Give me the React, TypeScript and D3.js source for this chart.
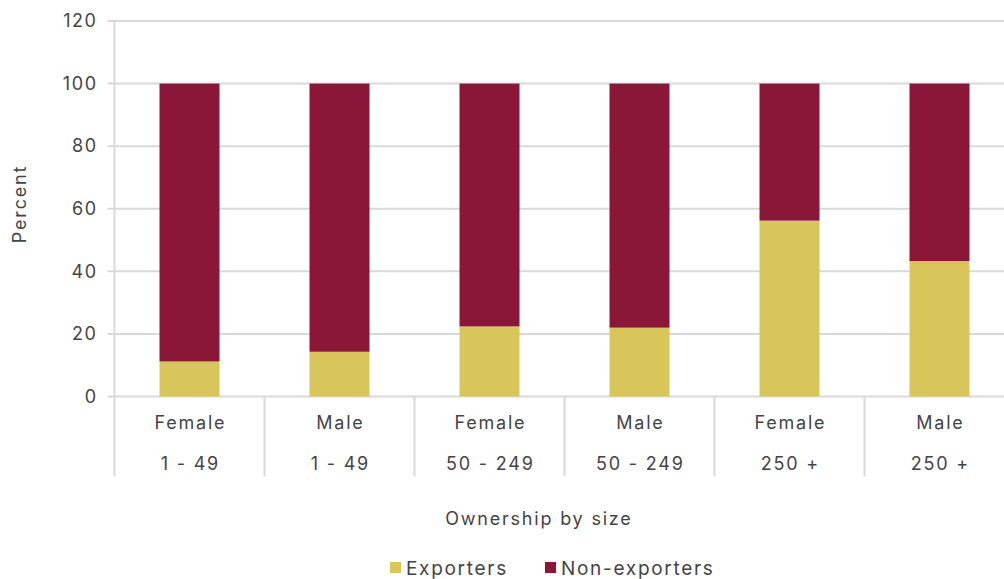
import React from "react";
import * as d3 from "d3";

const genders = ["Female", "Male", "Female", "Male", "Female", "Male"];
const sizes = ["1 - 49", "1 - 49", "50 - 249", "50 - 249", "250 +", "250 +"];
const exporters = [11.2, 14.3, 22.4, 22.0, 56.2, 43.3];
const nonExporters = exporters.map((v) => 100 - v);
const yTicks = [0, 20, 40, 60, 80, 100, 120];
const seriesNames = ["Exporters", "Non-exporters"];
const colors = ["#D8C65A", "#8B1738"];

const W = 1004;
const H = 579;
const left = 114.5;
const right = 1014.5;
const top = 21;
const bottom = 396.5;
const font = "Inter, 'Open Sans', sans-serif";
const textColor = "#444";
const ls = 1.8;

export default function App() {
  const idx = genders.map((_, i) => i);
  const x = d3.scaleBand<number>().domain(idx).range([left, right]).paddingInner(0).paddingOuter(0);
  const y = d3.scaleLinear().domain([0, 120]).range([bottom, top]);
  const bw = x.bandwidth() * 0.4;
  const stackData = idx.map((i) => ({ i, Exporters: exporters[i], "Non-exporters": nonExporters[i] }));
  const stacked = d3.stack<any>().keys(seriesNames)(stackData);

  return (
    <svg width={W} height={H} style={{ position: "absolute", left: 0, top: 0 }}>
      <rect width={W} height={H} fill="#fff" />
      {yTicks.map((t) => (
        <g key={t}>
          <line x1={left - 7} x2={W} y1={y(t)} y2={y(t)} stroke="#d9d9d9" strokeWidth={2} />
          <text x={96 + 1.6} y={y(t)} dy="0.35em" textAnchor="end" fontFamily={font} fontSize={18} letterSpacing={1.6} fill={textColor}>
            {t}
          </text>
        </g>
      ))}
      <line x1={left} x2={left} y1={top} y2={bottom + 80} stroke="#d9d9d9" strokeWidth={2} />
      {idx.slice(1).map((i) => (
        <line key={i} x1={x(i)!} x2={x(i)!} y1={bottom} y2={bottom + 80} stroke="#d9d9d9" strokeWidth={2} />
      ))}
      {stacked.map((s, si) =>
        s.map((d, i) => (
          <rect
            key={si + "-" + i}
            x={x(i)! + (x.bandwidth() - bw) / 2}
            width={bw}
            y={y(d[1])}
            height={y(d[0]) - y(d[1])}
            fill={colors[si]}
          />
        ))
      )}
      {idx.map((i) => (
        <g key={i} fontFamily={font} fontSize={18} letterSpacing={ls} fill={textColor} textAnchor="middle">
          <text x={x(i)! + x.bandwidth() / 2 + ls / 2} y={423} dy="0.35em">{genders[i]}</text>
          <text x={x(i)! + x.bandwidth() / 2 + ls / 2} y={464} dy="0.35em">{sizes[i]}</text>
        </g>
      ))}
      <text x={538 + ls / 2} y={519} dy="0.35em" textAnchor="middle" fontFamily={font} fontSize={18} letterSpacing={ls} fill={textColor}>
        Ownership by size
      </text>
      <text
        transform={`translate(20,204) rotate(-90)`}
        dy="0.35em"
        textAnchor="middle"
        fontFamily={font}
        fontSize={18}
        letterSpacing={ls}
        fill={textColor}
      >
        Percent
      </text>
      <g fontFamily={font} fontSize={19} letterSpacing={1.7} fill={textColor}>
        <rect x={390} y={562} width={11} height={11} fill={colors[0]} />
        <text x={406} y={574.5}>{seriesNames[0]}</text>
        <rect x={545} y={562} width={11} height={11} fill={colors[1]} />
        <text x={561} y={574.5}>{seriesNames[1]}</text>
      </g>
    </svg>
  );
}
